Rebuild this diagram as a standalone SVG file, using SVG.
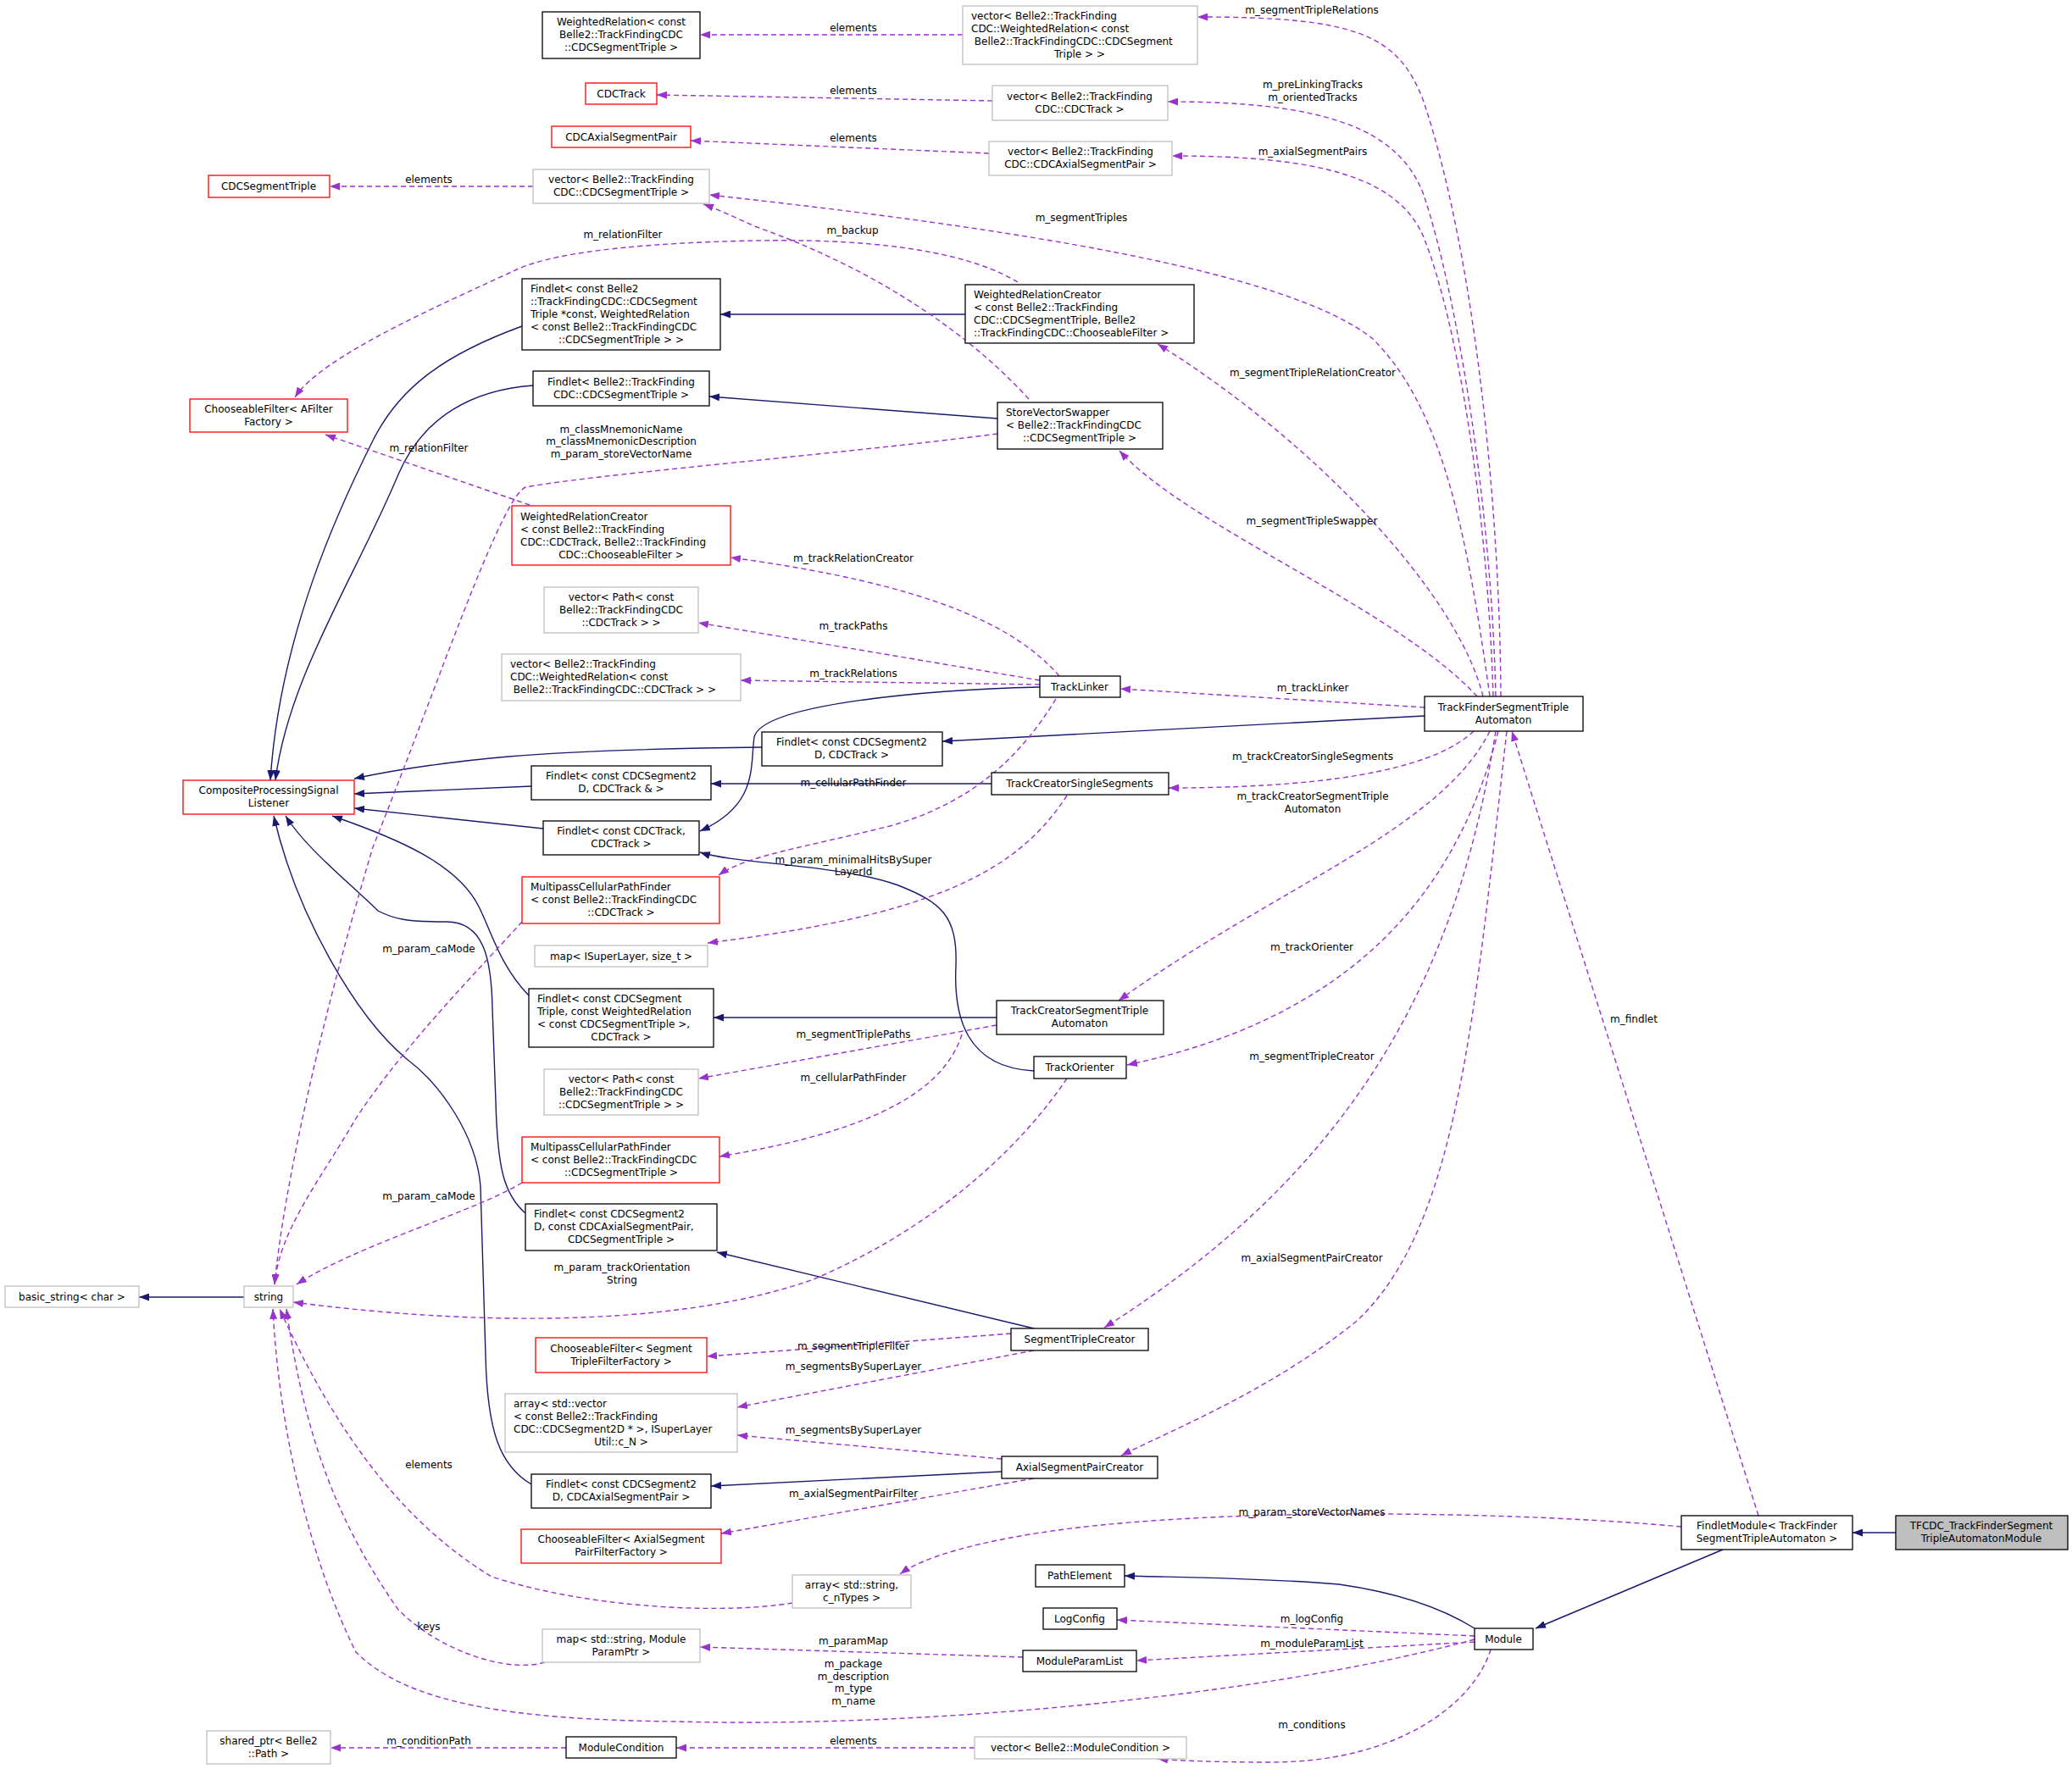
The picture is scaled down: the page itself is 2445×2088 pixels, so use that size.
<svg xmlns="http://www.w3.org/2000/svg" width="2445" height="2088" viewBox="0 0 2445 2088">
<style>
text{font-family:"DejaVu Sans","Liberation Sans",sans-serif;font-size:12px;fill:#000}
.m{text-anchor:middle}
.b rect{fill:#fff;stroke:#000;stroke-width:1.3}
.r rect{fill:#fff;stroke:#ff0000;stroke-width:1.3}
.g rect{fill:#fff;stroke:#bfbfbf;stroke-width:1.3}
.s{fill:none;stroke:#191970;stroke-width:1.4;marker-end:url(#an)}
.d{fill:none;stroke:#9a32cd;stroke-width:1.4;stroke-dasharray:6,4;marker-end:url(#ap)}
</style>
<defs>
<marker id="an" markerUnits="userSpaceOnUse" markerWidth="12" markerHeight="9" refX="12" refY="4.5" orient="auto"><path d="M0,0 L12,4.5 L0,9 z" fill="#191970"/></marker>
<marker id="ap" markerUnits="userSpaceOnUse" markerWidth="12" markerHeight="9" refX="12" refY="4.5" orient="auto"><path d="M0,0 L12,4.5 L0,9 z" fill="#9a32cd"/></marker>
</defs>
<rect width="2445" height="2088" fill="#fff"/>
<g id="edges">
<path class="s" d="M2237,1809 L2186,1809"/>
<path class="s" d="M2033,1829 L1812,1922"/>
<path class="s" d="M1740,1922 C1700,1897 1650,1880 1580,1870 C1480,1862 1400,1862 1327,1860"/>
<path class="s" d="M1681,845 L1112,875"/>
<path class="s" d="M899,882 C800,883 700,885 600,893 C520,900 470,908 418,919"/>
<path class="s" d="M627,928 L418,937"/>
<path class="s" d="M1170,925 L839,925"/>
<path class="s" d="M641,978 L418,954"/>
<path class="s" d="M1227,811 C1100,814 900,830 890,870 C885,905 895,950 826,981"/>
<path class="s" d="M1220,1264 C1140,1260 1125,1200 1128,1140 C1130,1080 1110,1065 1060,1045 C990,1020 870,1020 826,1006"/>
<path class="s" d="M1176,1201 L842,1201"/>
<path class="s" d="M624,1175 C590,1140 580,1100 565,1070 C540,1020 470,990 392,963"/>
<path class="s" d="M620,1432 C595,1410 587,1380 585,1300 L581,1190 C580,1130 570,1088 527,1088 C480,1088 465,1085 446,1075 C410,1040 360,1000 337,963"/>
<path class="s" d="M627,1752 C590,1730 575,1690 573,1600 L567,1400 C562,1340 520,1280 480,1250 C420,1200 350,1080 323,963"/>
<path class="s" d="M616,385 C520,420 470,460 440,520 C400,600 330,750 319,921"/>
<path class="s" d="M629,455 C560,460 500,490 470,560 C420,680 340,800 325,921"/>
<path class="s" d="M1177,494 L837,468"/>
<path class="s" d="M1139,371 L850,371"/>
<path class="s" d="M288,1531 L164,1531"/>
<path class="s" d="M1220,1568 L846,1478"/>
<path class="s" d="M1182,1737 L839,1754"/>

<path class="d" d="M1136,41 L826,41"/>
<path class="d" d="M1171,119 L775,112"/>
<path class="d" d="M1167,181 L815,166"/>
<path class="d" d="M629,220 L389,220"/>
<path class="d" d="M1771,822 C1770,600 1740,300 1680,120 C1650,40 1600,20 1413,20"/>
<path class="d" d="M1765,822 C1760,600 1720,350 1680,230 C1650,150 1560,120 1378,120"/>
<path class="d" d="M1762,822 C1755,600 1720,380 1680,280 C1650,210 1560,184 1383,184"/>
<path class="d" d="M1758,822 C1730,620 1700,480 1620,400 C1520,320 1200,270 837,230"/>
<path class="d" d="M1214,471 C1150,400 1040,320 893,268 C870,258 850,248 830,241"/>
<path class="d" d="M1201,333 C1130,290 1000,282 893,284 C780,286 660,295 610,318 C520,360 380,420 348,469"/>
<path class="d" d="M625,596 L384,513"/>
<path class="d" d="M1177,512 C1000,535 700,560 620,575 C590,590 520,800 440,1000 C380,1200 335,1400 324,1516"/>
<path class="d" d="M616,1088 C560,1150 480,1230 420,1320 C380,1390 330,1450 324,1516"/>
<path class="d" d="M616,1396 C560,1430 420,1470 350,1516"/>
<path class="d" d="M1259,1273 C1200,1360 1100,1450 960,1510 C820,1560 600,1570 346,1537"/>
<path class="d" d="M935,1892 C860,1905 700,1900 580,1861 C480,1800 400,1700 330,1545"/>
<path class="d" d="M643,1962 C600,1975 520,1950 470,1900 C400,1800 360,1700 338,1545"/>
<path class="d" d="M1740,1935 C1500,2000 1100,2040 800,2032 C600,2030 480,2010 420,1950 C370,1850 330,1700 322,1545"/>
<path class="d" d="M1250,798 C1200,740 1100,690 862,658"/>
<path class="d" d="M1227,803 L824,735"/>
<path class="d" d="M1227,808 L874,803"/>
<path class="d" d="M1246,825 C1200,900 1140,950 1050,975 C950,1000 880,1010 848,1033"/>
<path class="d" d="M1259,939 C1200,1030 1100,1080 835,1113"/>
<path class="d" d="M1681,835 L1322,813"/>
<path class="d" d="M1739,863 C1700,900 1600,930 1379,930"/>
<path class="d" d="M1758,863 C1700,980 1500,1050 1320,1181"/>
<path class="d" d="M1768,863 C1720,1050 1600,1200 1330,1257"/>
<path class="d" d="M1743,822 C1650,720 1400,620 1321,532"/>
<path class="d" d="M1750,822 C1720,700 1550,520 1366,406"/>
<path class="d" d="M1765,863 C1720,1150 1600,1380 1303,1567"/>
<path class="d" d="M1778,863 C1740,1200 1720,1450 1600,1560 C1500,1640 1400,1680 1323,1718"/>
<path class="d" d="M2075,1789 L1784,863"/>
<path class="d" d="M1984,1802 C1800,1785 1500,1780 1300,1800 C1200,1810 1100,1830 1062,1858"/>
<path class="d" d="M1176,1210 L824,1273"/>
<path class="d" d="M1135,1221 C1110,1300 1000,1340 849,1365"/>
<path class="d" d="M1193,1574 L834,1601"/>
<path class="d" d="M1220,1594 L870,1661"/>
<path class="d" d="M1182,1722 L870,1694"/>
<path class="d" d="M1220,1745 L851,1810"/>
<path class="d" d="M1740,1931 L1318,1912"/>
<path class="d" d="M1740,1938 L1341,1960"/>
<path class="d" d="M1207,1956 L826,1944"/>
<path class="d" d="M1759,1947 C1740,2010 1650,2080 1500,2080 C1430,2080 1390,2078 1366,2076"/>
<path class="d" d="M1150,2063 L798,2063"/>
<path class="d" d="M668,2063 L390,2063"/>
</g>
<g id="labels" class="m">
<text class="m" x="1007" y="37">elements</text>
<text class="m" x="1007" y="111">elements</text>
<text class="m" x="1007" y="167">elements</text>
<text class="m" x="506" y="216">elements</text>
<text class="m" x="1548" y="16">m_segmentTripleRelations</text>
<text class="m" x="1549" y="104">m_preLinkingTracks</text>
<text class="m" x="1549" y="119">m_orientedTracks</text>
<text class="m" x="1549" y="183">m_axialSegmentPairs</text>
<text class="m" x="1276" y="261">m_segmentTriples</text>
<text class="m" x="1006" y="276">m_backup</text>
<text class="m" x="735" y="281">m_relationFilter</text>
<text class="m" x="506" y="533">m_relationFilter</text>
<text class="m" x="733" y="511">m_classMnemonicName</text>
<text class="m" x="733" y="525">m_classMnemonicDescription</text>
<text class="m" x="733" y="540">m_param_storeVectorName</text>
<text class="m" x="1549" y="444">m_segmentTripleRelationCreator</text>
<text class="m" x="1548" y="619">m_segmentTripleSwapper</text>
<text class="m" x="1007" y="663">m_trackRelationCreator</text>
<text class="m" x="1007" y="743">m_trackPaths</text>
<text class="m" x="1007" y="799">m_trackRelations</text>
<text class="m" x="1549" y="816">m_trackLinker</text>
<text class="m" x="1549" y="897">m_trackCreatorSingleSegments</text>
<text class="m" x="1007" y="928">m_cellularPathFinder</text>
<text class="m" x="1549" y="944">m_trackCreatorSegmentTriple</text>
<text class="m" x="1549" y="959">Automaton</text>
<text class="m" x="1007" y="1019">m_param_minimalHitsBySuper</text>
<text class="m" x="1007" y="1033">LayerId</text>
<text class="m" x="506" y="1124">m_param_caMode</text>
<text class="m" x="1548" y="1122">m_trackOrienter</text>
<text class="m" x="1928" y="1207">m_findlet</text>
<text class="m" x="1007" y="1225">m_segmentTriplePaths</text>
<text class="m" x="1548" y="1251">m_segmentTripleCreator</text>
<text class="m" x="1007" y="1276">m_cellularPathFinder</text>
<text class="m" x="506" y="1416">m_param_caMode</text>
<text class="m" x="1548" y="1489">m_axialSegmentPairCreator</text>
<text class="m" x="734" y="1500">m_param_trackOrientation</text>
<text class="m" x="734" y="1515">String</text>
<text class="m" x="1007" y="1593">m_segmentTripleFilter</text>
<text class="m" x="1007" y="1617">m_segmentsBySuperLayer</text>
<text class="m" x="1007" y="1692">m_segmentsBySuperLayer</text>
<text class="m" x="506" y="1733">elements</text>
<text class="m" x="1007" y="1767">m_axialSegmentPairFilter</text>
<text class="m" x="1548" y="1789">m_param_storeVectorNames</text>
<text class="m" x="1548" y="1915">m_logConfig</text>
<text class="m" x="506" y="1924">keys</text>
<text class="m" x="1007" y="1941">m_paramMap</text>
<text class="m" x="1548" y="1944">m_moduleParamList</text>
<text class="m" x="1007" y="1968">m_package</text>
<text class="m" x="1007" y="1983">m_description</text>
<text class="m" x="1007" y="1997">m_type</text>
<text class="m" x="1007" y="2012">m_name</text>
<text class="m" x="1548" y="2040">m_conditions</text>
<text class="m" x="506" y="2059">m_conditionPath</text>
<text class="m" x="1007" y="2059">elements</text>
</g>
<g id="n1" class="b"><rect x="640" y="14" width="186" height="55"/><text class="m" x="733" y="30">WeightedRelation&lt; const<tspan x="733" dy="15">Belle2::TrackFindingCDC</tspan><tspan x="733" dy="15">::CDCSegmentTriple &gt;</tspan></text></g>
<g id="n2" class="g"><rect x="1136" y="7" width="277" height="69"/><text x="1146" y="23">vector&lt; Belle2::TrackFinding<tspan x="1146" dy="15">CDC::WeightedRelation&lt; const</tspan><tspan x="1146" dy="15"> Belle2::TrackFindingCDC::CDCSegment</tspan><tspan x="1274" dy="15" text-anchor="middle">Triple &gt; &gt;</tspan></text></g>
<g id="n3" class="r"><rect x="691" y="98" width="84" height="25"/><text class="m" x="733" y="115">CDCTrack</text></g>
<g id="n4" class="g"><rect x="1171" y="101" width="207" height="41"/><text class="m" x="1274" y="118">vector&lt; Belle2::TrackFinding<tspan x="1274" dy="15">CDC::CDCTrack &gt;</tspan></text></g>
<g id="n5" class="r"><rect x="651" y="149" width="164" height="25"/><text class="m" x="733" y="166">CDCAxialSegmentPair</text></g>
<g id="n6" class="g"><rect x="1167" y="167" width="216" height="40"/><text class="m" x="1275" y="183">vector&lt; Belle2::TrackFinding<tspan x="1275" dy="15">CDC::CDCAxialSegmentPair &gt;</tspan></text></g>
<g id="n7" class="r"><rect x="246" y="207" width="143" height="26"/><text class="m" x="317" y="224">CDCSegmentTriple</text></g>
<g id="n8" class="g"><rect x="629" y="200" width="208" height="40"/><text class="m" x="733" y="216">vector&lt; Belle2::TrackFinding<tspan x="733" dy="15">CDC::CDCSegmentTriple &gt;</tspan></text></g>
<g id="n9" class="b"><rect x="616" y="329" width="234" height="84"/><text x="626" y="345">Findlet&lt; const Belle2<tspan x="626" dy="15">::TrackFindingCDC::CDCSegment</tspan><tspan x="626" dy="15">Triple *const, WeightedRelation</tspan><tspan x="626" dy="15">&lt; const Belle2::TrackFindingCDC</tspan><tspan x="733" dy="15" text-anchor="middle">::CDCSegmentTriple &gt; &gt;</tspan></text></g>
<g id="n10" class="b"><rect x="1139" y="336" width="270" height="69"/><text x="1149" y="352">WeightedRelationCreator<tspan x="1149" dy="15">&lt; const Belle2::TrackFinding</tspan><tspan x="1149" dy="15">CDC::CDCSegmentTriple, Belle2</tspan><tspan x="1149" dy="15">::TrackFindingCDC::ChooseableFilter &gt;</tspan></text></g>
<g id="n11" class="r"><rect x="224" y="471" width="186" height="39"/><text class="m" x="317" y="487">ChooseableFilter&lt; AFilter<tspan x="317" dy="15">Factory &gt;</tspan></text></g>
<g id="n12" class="b"><rect x="629" y="438" width="208" height="41"/><text class="m" x="733" y="455">Findlet&lt; Belle2::TrackFinding<tspan x="733" dy="15">CDC::CDCSegmentTriple &gt;</tspan></text></g>
<g id="n13" class="b"><rect x="1177" y="475" width="195" height="55"/><text x="1187" y="491">StoreVectorSwapper<tspan x="1187" dy="15">&lt; Belle2::TrackFindingCDC</tspan><tspan x="1274" dy="15" text-anchor="middle">::CDCSegmentTriple &gt;</tspan></text></g>
<g id="n14" class="r"><rect x="604" y="597" width="258" height="70"/><text x="614" y="614">WeightedRelationCreator<tspan x="614" dy="15">&lt; const Belle2::TrackFinding</tspan><tspan x="614" dy="15">CDC::CDCTrack, Belle2::TrackFinding</tspan><tspan x="733" dy="15" text-anchor="middle">CDC::ChooseableFilter &gt;</tspan></text></g>
<g id="n15" class="g"><rect x="642" y="693" width="182" height="54"/><text class="m" x="733" y="709">vector&lt; Path&lt; const<tspan x="733" dy="15">Belle2::TrackFindingCDC</tspan><tspan x="733" dy="15">::CDCTrack &gt; &gt;</tspan></text></g>
<g id="n16" class="g"><rect x="592" y="772" width="282" height="55"/><text x="602" y="788">vector&lt; Belle2::TrackFinding<tspan x="602" dy="15">CDC::WeightedRelation&lt; const</tspan><tspan x="602" dy="15"> Belle2::TrackFindingCDC::CDCTrack &gt; &gt;</tspan></text></g>
<g id="n17" class="b"><rect x="1227" y="798" width="95" height="25"/><text class="m" x="1274" y="815">TrackLinker</text></g>
<g id="n18" class="b"><rect x="899" y="864" width="213" height="40"/><text class="m" x="1005" y="880">Findlet&lt; const CDCSegment2<tspan x="1005" dy="15">D, CDCTrack &gt;</tspan></text></g>
<g id="n19" class="r"><rect x="216" y="921" width="202" height="40"/><text class="m" x="317" y="937">CompositeProcessingSignal<tspan x="317" dy="15">Listener</tspan></text></g>
<g id="n20" class="b"><rect x="627" y="904" width="212" height="40"/><text class="m" x="733" y="920">Findlet&lt; const CDCSegment2<tspan x="733" dy="15">D, CDCTrack &amp; &gt;</tspan></text></g>
<g id="n21" class="b"><rect x="1170" y="912" width="209" height="26"/><text class="m" x="1274" y="929">TrackCreatorSingleSegments</text></g>
<g id="n22" class="b"><rect x="641" y="969" width="184" height="40"/><text class="m" x="733" y="985">Findlet&lt; const CDCTrack,<tspan x="733" dy="15">CDCTrack &gt;</tspan></text></g>
<g id="n23" class="r"><rect x="616" y="1035" width="233" height="55"/><text x="626" y="1051">MultipassCellularPathFinder<tspan x="626" dy="15">&lt; const Belle2::TrackFindingCDC</tspan><tspan x="733" dy="15" text-anchor="middle">::CDCTrack &gt;</tspan></text></g>
<g id="n24" class="g"><rect x="631" y="1116" width="204" height="25"/><text class="m" x="733" y="1133">map&lt; ISuperLayer, size_t &gt;</text></g>
<g id="n25" class="b"><rect x="624" y="1167" width="218" height="69"/><text x="634" y="1183">Findlet&lt; const CDCSegment<tspan x="634" dy="15">Triple, const WeightedRelation</tspan><tspan x="634" dy="15">&lt; const CDCSegmentTriple &gt;,</tspan><tspan x="733" dy="15" text-anchor="middle">CDCTrack &gt;</tspan></text></g>
<g id="n26" class="b"><rect x="1176" y="1181" width="197" height="40"/><text class="m" x="1274" y="1197">TrackCreatorSegmentTriple<tspan x="1274" dy="15">Automaton</tspan></text></g>
<g id="n27" class="b"><rect x="1220" y="1247" width="109" height="26"/><text class="m" x="1274" y="1264">TrackOrienter</text></g>
<g id="n28" class="g"><rect x="642" y="1262" width="182" height="54"/><text class="m" x="733" y="1278">vector&lt; Path&lt; const<tspan x="733" dy="15">Belle2::TrackFindingCDC</tspan><tspan x="733" dy="15">::CDCSegmentTriple &gt; &gt;</tspan></text></g>
<g id="n29" class="r"><rect x="616" y="1342" width="233" height="54"/><text x="626" y="1358">MultipassCellularPathFinder<tspan x="626" dy="15">&lt; const Belle2::TrackFindingCDC</tspan><tspan x="733" dy="15" text-anchor="middle">::CDCSegmentTriple &gt;</tspan></text></g>
<g id="n30" class="b"><rect x="620" y="1421" width="226" height="55"/><text x="630" y="1437">Findlet&lt; const CDCSegment2<tspan x="630" dy="15">D, const CDCAxialSegmentPair,</tspan><tspan x="733" dy="15" text-anchor="middle">CDCSegmentTriple &gt;</tspan></text></g>
<g id="n31" class="g"><rect x="6" y="1518" width="158" height="25"/><text class="m" x="85" y="1535">basic_string&lt; char &gt;</text></g>
<g id="n32" class="g"><rect x="288" y="1518" width="58" height="25"/><text class="m" x="317" y="1535">string</text></g>
<g id="n33" class="b"><rect x="1193" y="1568" width="162" height="26"/><text class="m" x="1274" y="1585">SegmentTripleCreator</text></g>
<g id="n34" class="r"><rect x="632" y="1579" width="202" height="41"/><text class="m" x="733" y="1596">ChooseableFilter&lt; Segment<tspan x="733" dy="15">TripleFilterFactory &gt;</tspan></text></g>
<g id="n35" class="g"><rect x="596" y="1645" width="274" height="69"/><text x="606" y="1661">array&lt; std::vector<tspan x="606" dy="15">&lt; const Belle2::TrackFinding</tspan><tspan x="606" dy="15">CDC::CDCSegment2D * &gt;, ISuperLayer</tspan><tspan x="733" dy="15" text-anchor="middle">Util::c_N &gt;</tspan></text></g>
<g id="n36" class="b"><rect x="1182" y="1719" width="184" height="26"/><text class="m" x="1274" y="1736">AxialSegmentPairCreator</text></g>
<g id="n37" class="b"><rect x="627" y="1740" width="212" height="40"/><text class="m" x="733" y="1756">Findlet&lt; const CDCSegment2<tspan x="733" dy="15">D, CDCAxialSegmentPair &gt;</tspan></text></g>
<g id="n38" class="r"><rect x="615" y="1805" width="236" height="40"/><text class="m" x="733" y="1821">ChooseableFilter&lt; AxialSegment<tspan x="733" dy="15">PairFilterFactory &gt;</tspan></text></g>
<g id="n39" class="b"><rect x="1984" y="1789" width="202" height="40"/><text class="m" x="2085" y="1805">FindletModule&lt; TrackFinder<tspan x="2085" dy="15">SegmentTripleAutomaton &gt;</tspan></text></g>
<g id="n40"><rect x="2237" y="1789" width="203" height="40" fill="#bfbfbf" stroke="#000" stroke-width="1.3"/><text class="m" x="2338" y="1805">TFCDC_TrackFinderSegment<tspan x="2338" dy="15">TripleAutomatonModule</tspan></text></g>
<g id="n41" class="b"><rect x="1222" y="1847" width="105" height="26"/><text class="m" x="1274" y="1864">PathElement</text></g>
<g id="n42" class="g"><rect x="935" y="1859" width="140" height="39"/><text class="m" x="1005" y="1875">array&lt; std::string,<tspan x="1005" dy="15">c_nTypes &gt;</tspan></text></g>
<g id="n43" class="b"><rect x="1231" y="1898" width="87" height="25"/><text class="m" x="1274" y="1915">LogConfig</text></g>
<g id="n44" class="g"><rect x="640" y="1923" width="186" height="39"/><text class="m" x="733" y="1939">map&lt; std::string, Module<tspan x="733" dy="15">ParamPtr &gt;</tspan></text></g>
<g id="n45" class="b"><rect x="1740" y="1922" width="69" height="25"/><text class="m" x="1774" y="1939">Module</text></g>
<g id="n46" class="b"><rect x="1207" y="1948" width="134" height="25"/><text class="m" x="1274" y="1965">ModuleParamList</text></g>
<g id="n47" class="b"><rect x="1681" y="822" width="187" height="41"/><text class="m" x="1774" y="839">TrackFinderSegmentTriple<tspan x="1774" dy="15">Automaton</tspan></text></g>
<g id="n48" class="g"><rect x="244" y="2043" width="146" height="39"/><text class="m" x="317" y="2059">shared_ptr&lt; Belle2<tspan x="317" dy="15">::Path &gt;</tspan></text></g>
<g id="n49" class="b"><rect x="668" y="2050" width="130" height="25"/><text class="m" x="733" y="2067">ModuleCondition</text></g>
<g id="n50" class="g"><rect x="1150" y="2050" width="250" height="26"/><text class="m" x="1275" y="2067">vector&lt; Belle2::ModuleCondition &gt;</text></g>
</svg>
